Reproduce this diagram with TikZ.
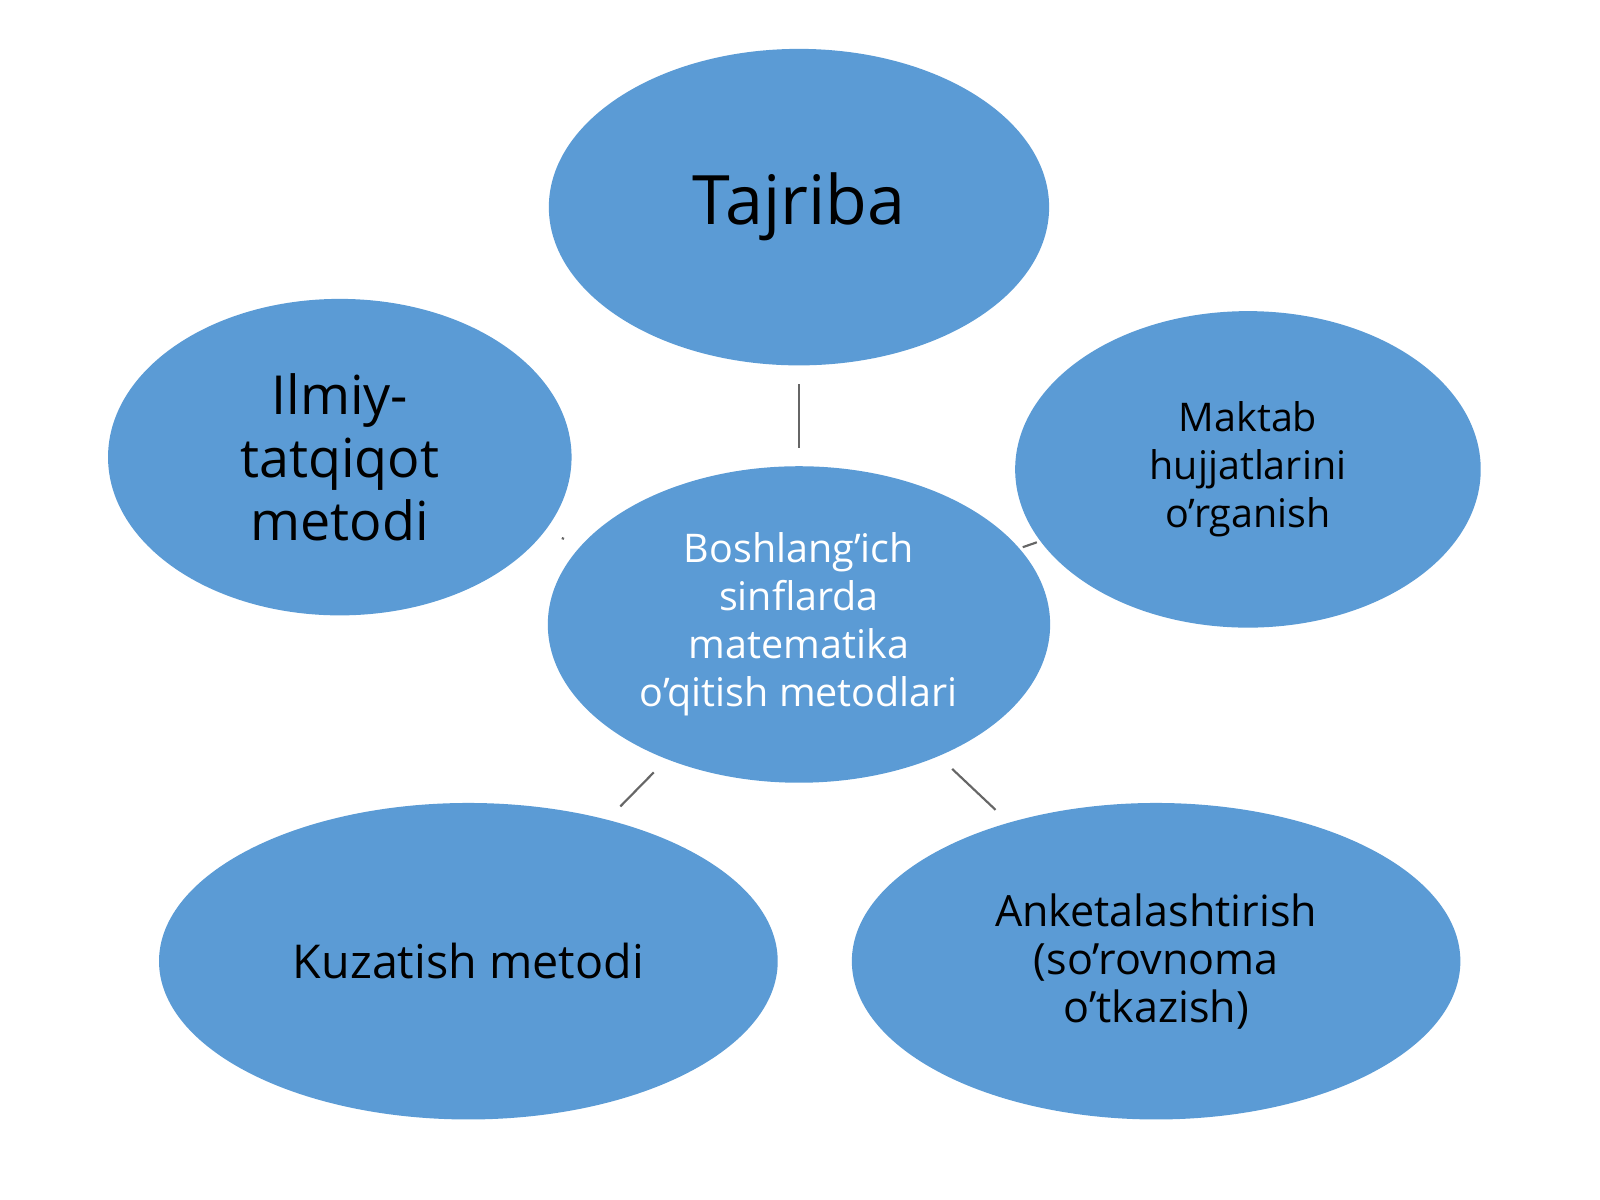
\documentclass[tikz,border=0pt]{standalone}
\usepackage{fontspec}
\setmainfont{Open Sans}
\usetikzlibrary{shapes.geometric}
\definecolor{blob}{HTML}{5B9BD5}
\begin{document}
\begin{tikzpicture}[
            x=0.01cm, y=-0.01cm,
            blob/.style = {ellipse, fill=blob, inner sep=0pt, align=center},
            link/.style = {draw=black!60, semithick, shorten >=5pt, shorten <=5pt}
        ]
        \useasboundingbox (0,0) rectangle (1568,1176);
        % ellipses
        \node[blob, minimum width=490\pgflinewidth*0+4.9cm, minimum height=3.1cm,
              font=\fontsize{19}{23}\selectfont] (taj) at (783,203) {Tajriba};
        \node[blob, minimum width=4.54cm, minimum height=3.1cm,
              font=\fontsize{15}{17.6}\selectfont] (ilm) at (333,448) {Ilmiy-\\tatqiqot\\metodi};
        \node[blob, minimum width=4.56cm, minimum height=3.1cm,
              font=\fontsize{11}{13.4}\selectfont] (mak) at (1223,460) {Maktab\\hujjatlarini\\o’rganish};
        \node[blob, minimum width=4.92cm, minimum height=3.1cm, text=white,
              font=\fontsize{11}{13.4}\selectfont] (mid) at (783,612) {Boshlang’ich\\sinflarda\\matematika\\o’qitish metodlari};
        \node[blob, minimum width=6.06cm, minimum height=3.1cm,
              font=\fontsize{13}{15}\selectfont] (kuz) at (459,942) {Kuzatish metodi};
        \node[blob, minimum width=5.96cm, minimum height=3.1cm,
              font=\fontsize{12}{13.4}\selectfont] (ank) at (1133,942) {Anketalashtirish\\(so’rovnoma\\o’tkazish)};
        % connectors
        \foreach \n in {taj, ilm, mak, kuz, ank}
            \draw[link] (mid) -- (\n);
    \end{tikzpicture}
\end{document}
